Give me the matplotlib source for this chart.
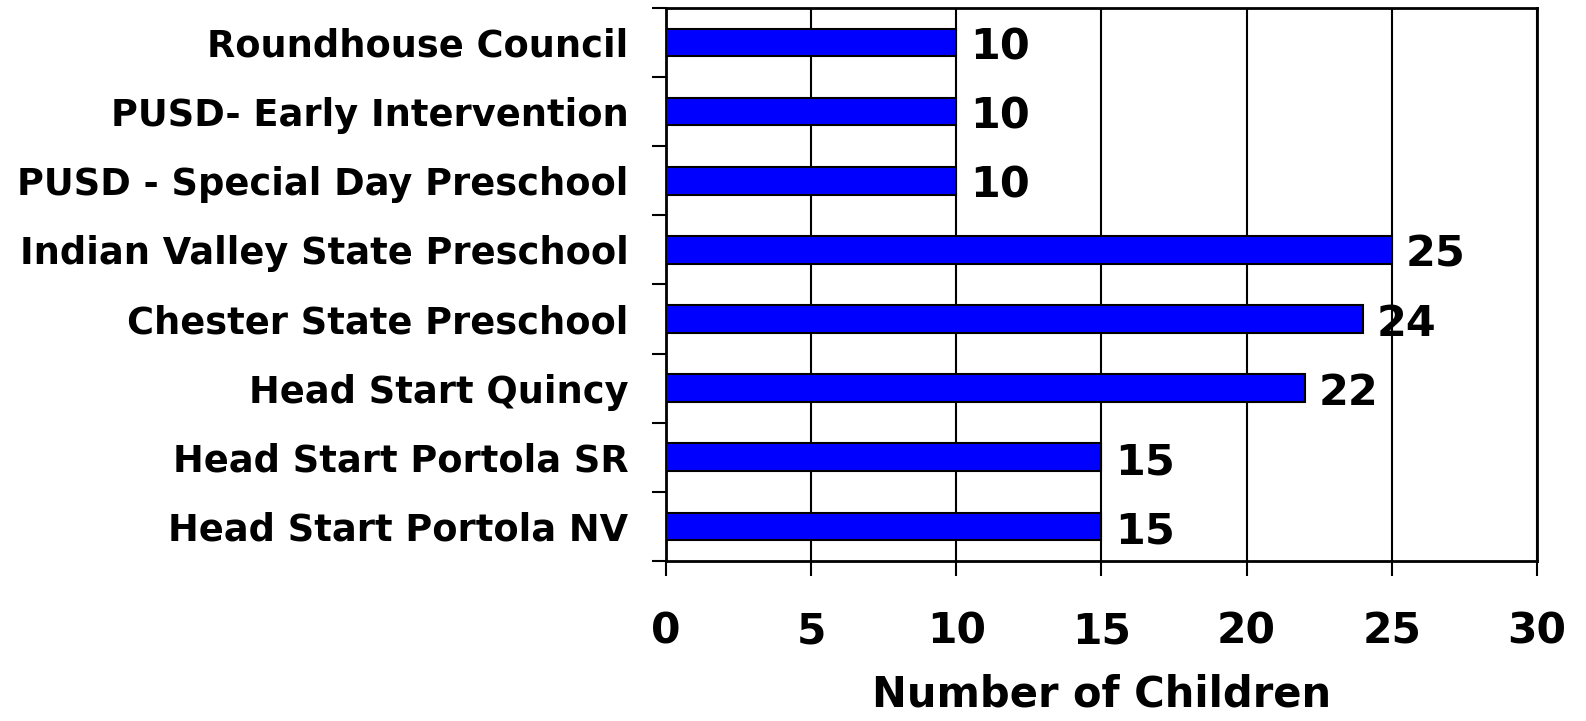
import numpy as np
import matplotlib
matplotlib.use("Agg")
import matplotlib.pyplot as plt
from matplotlib.ticker import FixedLocator

# Data (top to bottom as in the chart)
programs = ["Roundhouse Council", "PUSD- Early Intervention",
            "PUSD - Special Day Preschool", "Indian Valley State Preschool",
            "Chester State Preschool", "Head Start Quincy",
            "Head Start Portola SR", "Head Start Portola NV"]
children = [10, 10, 10, 25, 24, 22, 15, 15]
x_ticks = [0, 5, 10, 15, 20, 25, 30]

plt.rcParams['font.family'] = ['DejaVu Sans']
plt.rcParams['font.weight'] = 'bold'

fig = plt.figure(figsize=(15.86, 7.21), dpi=100, facecolor='w')
ax = fig.add_axes([0.42, 0.222, 0.549, 0.767])

y = np.arange(len(programs))
ax.barh(y, children, height=0.4, color='#0000FF', edgecolor='black',
        linewidth=1.5, zorder=3)

for yi, v in zip(y, children):
    ax.annotate(str(v), (v, yi), xytext=(10, -3.5), textcoords='offset points',
                va='center', ha='left', fontsize=31, fontweight='bold')

ax.set_xlim(0, 30)
ax.set_ylim(len(programs) - 0.5, -0.5)

ax.xaxis.set_major_locator(FixedLocator(x_ticks))
ax.set_xticklabels([str(t) for t in x_ticks], fontsize=30.5, fontweight='bold')
ax.tick_params(axis='x', direction='out', length=11, width=1.5, pad=25)
ax.grid(axis='x', color='black', linewidth=1.5, zorder=0)

ax.set_yticks(y)
ax.set_yticklabels(programs, fontsize=26.5, fontweight='bold')
ax.tick_params(axis='y', which='major', length=0, pad=27)
ax.yaxis.set_minor_locator(FixedLocator(np.arange(-0.5, len(programs), 1.0)))
ax.tick_params(axis='y', which='minor', direction='out', length=10, width=1.5)

for s in ['left', 'bottom', 'top', 'right']:
    ax.spines[s].set_linewidth(2)
    ax.spines[s].set_color('black')

ax.set_xlabel("Number of Children", fontsize=30, fontweight='bold', labelpad=15)

fig.savefig("out.png", dpi=100, facecolor='w')
